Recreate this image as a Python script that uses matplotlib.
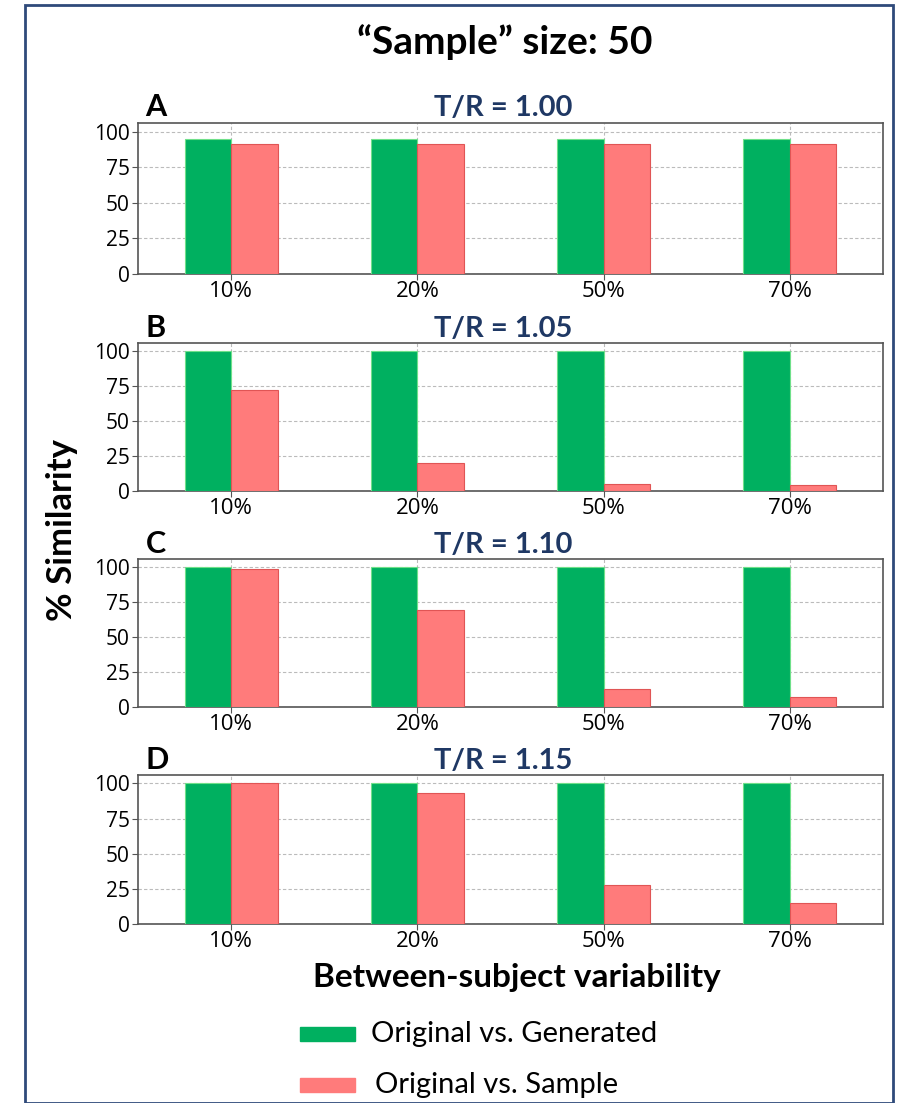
import numpy as np
import matplotlib
matplotlib.use('Agg')
import matplotlib.pyplot as plt
from matplotlib.patches import Rectangle

plt.rcParams['font.family'] = ['Open Sans', 'DejaVu Sans']

# data
groups = ['10%', '20%', '50%', '70%']
panels = ['A', 'B', 'C', 'D']
ratios = ['T/R = 1.00', 'T/R = 1.05', 'T/R = 1.10', 'T/R = 1.15']
generated = [[95, 95, 95, 95],
             [100, 100, 100, 100],
             [100, 100, 100, 100],
             [100, 100, 100, 100]]
sample = [[91.5, 91.5, 91.5, 91.5],
          [72, 20, 5, 4],
          [98.5, 69.5, 13, 7.5],
          [100, 93.5, 27.5, 15]]

green = '#00B060'
red = '#FF7B7B'
navy = '#1F3864'

W, H = 907, 1103
fig = plt.figure(figsize=(W/100, H/100), dpi=100)

# outer frame
fig.patches.append(Rectangle((25/W, 0), 868/W, 1-5/H, transform=fig.transFigure,
                             fill=False, edgecolor='#2F4A7A', linewidth=2))

# axes extents in pixels (top, bottom)
rows = [(123, 274), (343, 491), (559, 707), (775, 924)]
left, right = 138, 883
x = np.arange(len(groups))
w = 0.25

for i, (top, bot) in enumerate(rows):
    ax = fig.add_axes([left/W, 1-bot/H, (right-left)/W, (bot-top)/H])
    ax.bar(x - w/2, generated[i], w, color=green, edgecolor='#6FE08A', linewidth=0.8, zorder=3)
    ax.bar(x + w/2, sample[i], w, color=red, edgecolor='#E05555', linewidth=0.8, zorder=3)
    ax.set_xlim(-0.5, 3.5)
    ax.set_ylim(0, 106)
    ax.set_yticks([0, 25, 50, 75, 100])
    ax.set_xticks(x)
    ax.set_xticklabels(groups)
    ax.tick_params(axis='x', labelsize=16, length=4, color='#555555', pad=1)
    ax.tick_params(axis='y', labelsize=15, length=4, color='#555555', pad=2)
    ax.grid(True, linestyle=(0, (3, 2)), color='#BBBBBB', linewidth=0.8, zorder=0)
    for s in ax.spines.values():
        s.set_color('#555555')
        s.set_linewidth(1.2)
    ax.text(0.01, 1.01, panels[i], transform=ax.transAxes, fontsize=22,
            fontweight='bold', family=['Lato', 'DejaVu Sans'], ha='left', va='bottom')
    ax.text(0.49, 1.01, ratios[i], transform=ax.transAxes, fontsize=21,
            fontweight='bold', color=navy, family=['Lato', 'DejaVu Sans'],
            ha='center', va='bottom')

fig.text(505/W, 1-42/H, '\u201cSample\u201d size: 50', fontsize=28, fontweight='bold',
         family=['Lato', 'DejaVu Sans'], ha='center', va='center')
fig.text(62/W, 1-530/H, '% Similarity', fontsize=25, fontweight='bold', rotation=90,
         family=['Lato', 'DejaVu Sans'], ha='center', va='center')
fig.text(517/W, 1-978/H, 'Between-subject variability', fontsize=24, fontweight='bold',
         family=['Lato', 'DejaVu Sans'], ha='center', va='center')

# legend drawn as patches + text
labels = ['Original vs. Generated', 'Original vs. Sample']
for c, lab, yy, tx in zip([green, red], labels, [1034, 1085], [371, 375]):
    fig.patches.append(Rectangle((300/W, 1-(yy+7)/H), 55/W, 14/H,
                                 transform=fig.transFigure, color=c))
    fig.text(tx/W, 1-yy/H, lab, fontsize=21, family=['Lato', 'DejaVu Sans'],
             ha='left', va='center')

fig.savefig('out.png', dpi=100)
